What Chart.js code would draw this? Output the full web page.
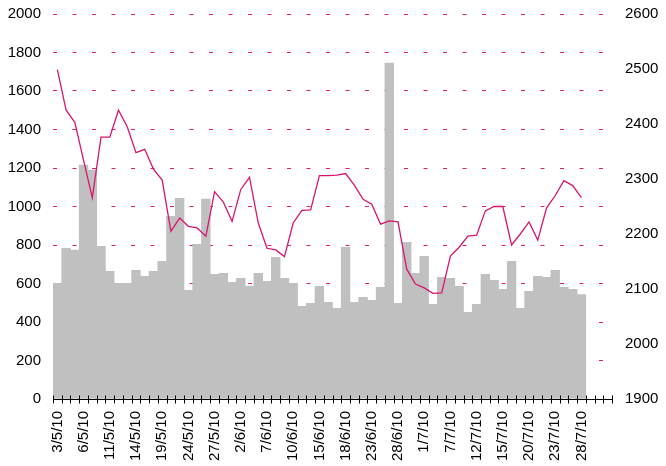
<!DOCTYPE html>
<html>
<head>
<meta charset="utf-8">
<script src="https://cdn.jsdelivr.net/npm/chart.js@4/dist/chart.umd.min.js"></script>
<style>
  html, body { margin: 0; padding: 0; background: #fff; }
  #wrap { width: 666px; height: 466px; }
</style>
</head>
<body>
<div id="wrap"><canvas id="chart" width="666" height="466"></canvas></div>
<script>
// trading days, plus three empty slots at the end of the axis
const dates = [
  '3/5/10', '4/5/10', '5/5/10', '6/5/10', '7/5/10', '10/5/10', '11/5/10', '12/5/10', '13/5/10', '14/5/10',
  '17/5/10', '18/5/10', '19/5/10', '20/5/10', '21/5/10', '24/5/10', '25/5/10', '26/5/10', '27/5/10', '28/5/10',
  '1/6/10', '2/6/10', '3/6/10', '4/6/10', '7/6/10', '8/6/10', '9/6/10', '10/6/10', '11/6/10', '14/6/10',
  '15/6/10', '16/6/10', '17/6/10', '18/6/10', '21/6/10', '22/6/10', '23/6/10', '24/6/10', '25/6/10', '28/6/10',
  '29/6/10', '30/6/10', '1/7/10', '2/7/10', '6/7/10', '7/7/10', '8/7/10', '9/7/10', '12/7/10', '13/7/10',
  '14/7/10', '15/7/10', '16/7/10', '19/7/10', '20/7/10', '21/7/10', '22/7/10', '23/7/10', '26/7/10', '27/7/10',
  '28/7/10', '29/7/10', '30/7/10', '2/8/10',
];

const volume = [
  601, 783, 774, 1215, 1189, 793, 663, 601, 601, 668,
  637, 663, 715, 949, 1043, 564, 804, 1038, 647, 653,
  606, 627, 585, 653, 611, 736, 627, 601, 481, 497,
  585, 502, 471, 788, 502, 528, 512, 580, 1745, 497,
  814, 653, 741, 492, 632, 627, 585, 450, 492, 647,
  616, 570, 715, 471, 559, 637, 632, 668, 580, 570,
  543, null, null, null,
];

const price = [
  2499, 2425, 2403, 2334, 2266, 2376, 2376, 2425, 2395, 2348,
  2354, 2318, 2298, 2205, 2229, 2214, 2211, 2196, 2277, 2258,
  2223, 2281, 2303, 2220, 2174, 2171, 2159, 2220, 2243, 2244,
  2306, 2306, 2307, 2310, 2289, 2263, 2254, 2218, 2224, 2222,
  2136, 2109, 2102, 2092, 2093, 2160, 2176, 2196, 2198, 2242,
  2250, 2250, 2180, 2200, 2222, 2189, 2247, 2270, 2297, 2288,
  2266, null, null, null,
];

const lastLabelIndex = 60;
const labelEvery = 3;

Chart.defaults.font.family = '"Liberation Sans", Arial, sans-serif';
Chart.defaults.font.size = 15;
Chart.defaults.color = '#000';

// tick marks that cross the category axis, between categories
const crossTicks = {
  id: 'crossTicks',
  afterDatasetsDraw(chart) {
    const x = chart.scales.x;
    const ctx = chart.ctx;
    const step = x.width / dates.length;
    const y = Math.round(x.top) + 0.5;
    ctx.save();
    ctx.strokeStyle = '#000';
    ctx.lineWidth = 1;
    ctx.beginPath();
    for (let i = 0; i <= dates.length; i += 1) {
      const px = Math.round(x.left + i * step) + 0.5;
      ctx.moveTo(px, y - 4);
      ctx.lineTo(px, y + 4);
    }
    ctx.stroke();
    ctx.restore();
  },
};

const plain = value => String(value);

// fixed axis sizes so the plot area sits where it does in the original
function fixSize(size) {
  return scale => {
    if (scale.isHorizontal()) {
      scale.height = size;
    } else {
      scale.width = size;
    }
    scale.paddingLeft = 0;
    scale.paddingRight = 0;
    scale.paddingTop = 0;
    scale.paddingBottom = 0;
  };
}

new Chart(document.getElementById('chart').getContext('2d'), {
  type: 'bar',
  data: {
    labels: dates,
    datasets: [
      {
        type: 'line',
        data: price,
        yAxisID: 'y1',
        borderColor: '#d9156f',
        borderWidth: 1.3,
        pointRadius: 0,
        tension: 0,
        order: 0,
      },
      {
        type: 'bar',
        data: volume,
        yAxisID: 'y',
        backgroundColor: '#c0c0c0',
        borderWidth: 0,
        barPercentage: 1,
        categoryPercentage: 1,
        order: 1,
      },
    ],
  },
  options: {
    responsive: false,
    animation: false,
    layout: { padding: { top: 14, left: 0, right: 0, bottom: 0 } },
    plugins: { legend: { display: false }, tooltip: { enabled: false } },
    scales: {
      x: {
        offset: true,
        afterFit: fixSize(67),
        grid: { display: true, drawOnChartArea: false, drawTicks: false, offset: true },
        border: { display: true, color: '#000', width: 1 },
        ticks: {
          autoSkip: false,
          maxRotation: 90,
          minRotation: 90,
          padding: 12,
          callback: (value, index) => (index % labelEvery === 0 && index <= lastLabelIndex ? dates[index] : ''),
        },
      },
      y: {
        position: 'left',
        min: 0,
        max: 2000,
        afterFit: fixSize(53),
        ticks: { stepSize: 200, padding: 12, callback: plain },
        grid: { color: '#e2187a', lineWidth: 1, drawTicks: false },
        border: { display: false, dash: [4, 15.5] },
      },
      y1: {
        position: 'right',
        min: 1900,
        max: 2600,
        afterFit: fixSize(54),
        ticks: { stepSize: 100, padding: 13, callback: plain },
        grid: { drawOnChartArea: false, drawTicks: false },
        border: { display: false },
      },
    },
  },
  plugins: [crossTicks],
});
</script>
</body>
</html>
